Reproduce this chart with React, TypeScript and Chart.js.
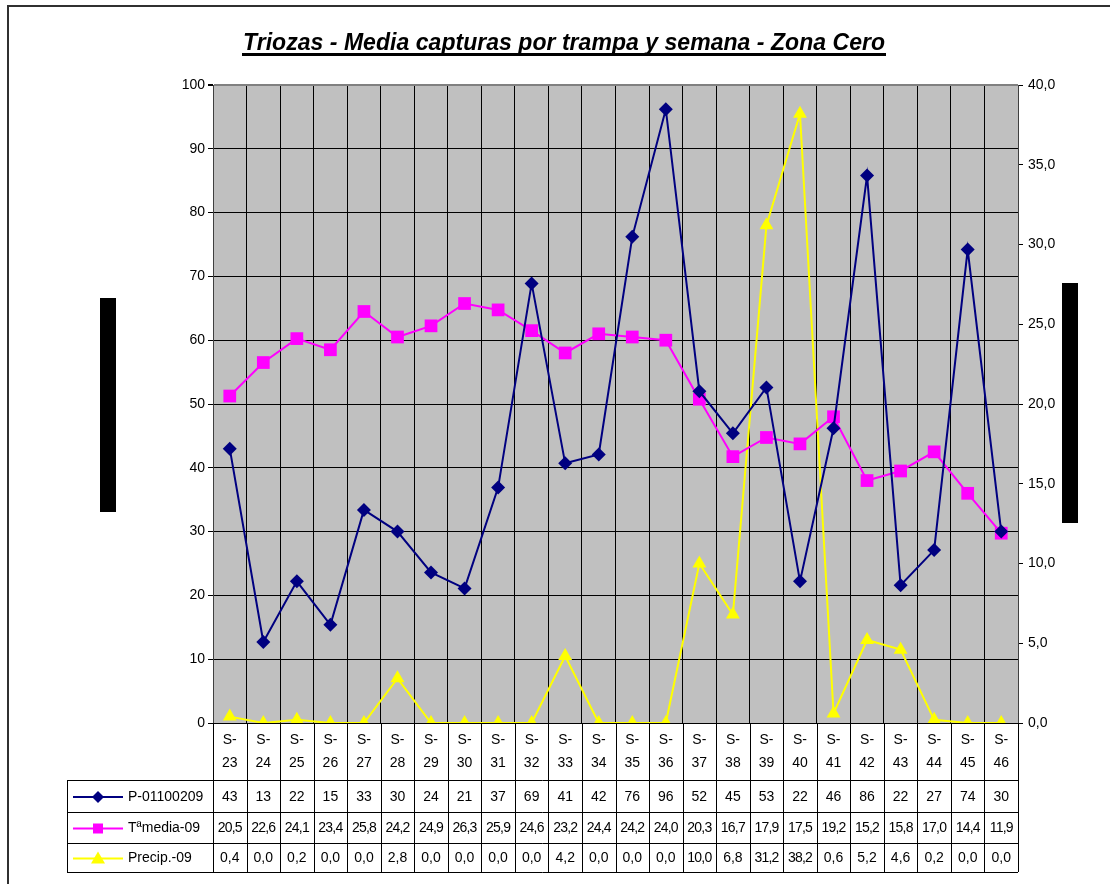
import React, { useEffect, useRef } from "react";
import { Chart, registerables } from "chart.js";

Chart.register(...registerables);

const title = "Triozas - Media capturas por trampa y semana - Zona Cero";
const weeks = ["23", "24", "25", "26", "27", "28", "29", "30", "31", "32", "33", "34", "35", "36", "37", "38", "39", "40", "41", "42", "43", "44", "45", "46"];
const categories = weeks.map((w) => "S-" + w);
const seriesNames = ["P-01100209", "Tªmedia-09", "Precip.-09"];
const capturas = [43.0, 12.7, 22.2, 15.4, 33.4, 30.0, 23.6, 21.1, 36.9, 68.9, 40.7, 42.1, 76.2, 96.2, 52.0, 45.4, 52.6, 22.2, 46.2, 85.8, 21.6, 27.1, 74.2, 30.0];
const tmedia = [20.5, 22.6, 24.1, 23.4, 25.8, 24.2, 24.9, 26.3, 25.9, 24.6, 23.2, 24.4, 24.2, 24.0, 20.3, 16.7, 17.9, 17.5, 19.2, 15.2, 15.8, 17.0, 14.4, 11.9];
const precip = [0.4, 0.0, 0.2, 0.0, 0.0, 2.8, 0.0, 0.0, 0.0, 0.0, 4.2, 0.0, 0.0, 0.0, 10.0, 6.8, 31.2, 38.2, 0.6, 5.2, 4.6, 0.2, 0.0, 0.0];

const NAVY = "#000080";
const MAGENTA = "#FF00FF";
const YELLOW = "#FFFF00";
const FONT = '"Liberation Sans", Arial, sans-serif';

const comma = (v: number) => v.toFixed(1).replace(".", ",");

function drawMarker(ctx: CanvasRenderingContext2D, kind: string, x: number, y: number, color: string) {
  ctx.fillStyle = color;
  ctx.beginPath();
  if (kind === "diamond") {
    ctx.moveTo(x, y - 6);
    ctx.lineTo(x + 6, y);
    ctx.lineTo(x, y + 6);
    ctx.lineTo(x - 6, y);
  } else if (kind === "square") {
    ctx.rect(x - 5, y - 5, 10, 10);
  } else {
    ctx.moveTo(x, y - 7);
    ctx.lineTo(x + 7, y + 5);
    ctx.lineTo(x - 7, y + 5);
  }
  ctx.closePath();
  ctx.fill();
}

const decorPlugin = {
  id: "decor",
  beforeDraw(chart: any) {
    const { ctx, chartArea } = chart;
    ctx.save();
    ctx.fillStyle = "#ffffff";
    ctx.fillRect(0, 0, chart.width, chart.height);
    ctx.fillStyle = "#C0C0C0";
    ctx.fillRect(chartArea.left, chartArea.top, chartArea.right - chartArea.left, chartArea.bottom - chartArea.top);
    ctx.restore();
  },
  afterDraw(chart: any) {
    const { ctx, chartArea } = chart;
    const x = chart.scales.x;
    const { right, bottom } = chartArea;
    const half = (x.getPixelForValue(1) - x.getPixelForValue(0)) / 2;
    const rows = [bottom + 57, bottom + 89, bottom + 120, bottom + 149];
    const legendLeft = 67;
    ctx.save();

    // outer frame
    ctx.strokeStyle = "#303030";
    ctx.lineWidth = 2;
    ctx.beginPath();
    ctx.moveTo(8, chart.height);
    ctx.lineTo(8, 6);
    ctx.lineTo(chart.width, 6);
    ctx.stroke();

    // title
    ctx.font = "italic bold 23px " + FONT;
    ctx.fillStyle = "#000";
    const target = 642;
    const w0 = ctx.measureText(title).width;
    (ctx as any).letterSpacing = (target - w0) / (title.length - 1) + "px";
    const tx = 564 - target / 2;
    ctx.textAlign = "left";
    ctx.textBaseline = "alphabetic";
    ctx.fillText(title, tx, 50);
    (ctx as any).letterSpacing = "0px";
    ctx.fillRect(tx - 1, 53, target + 2, 3);

    // table lines
    ctx.strokeStyle = "#000";
    ctx.lineWidth = 1;
    ctx.beginPath();
    for (let i = 0; i <= categories.length; i++) {
      const px = Math.round(x.getPixelForValue(i) - half) + 0.5;
      ctx.moveTo(px, bottom);
      ctx.lineTo(px, rows[3]);
    }
    for (let r = 0; r < 4; r++) {
      ctx.moveTo(legendLeft, rows[r] + 0.5);
      ctx.lineTo(right, rows[r] + 0.5);
    }
    ctx.moveTo(legendLeft + 0.5, rows[0]);
    ctx.lineTo(legendLeft + 0.5, rows[3]);
    ctx.stroke();

    // category labels
    ctx.font = "14px " + FONT;
    ctx.textAlign = "center";
    ctx.textBaseline = "middle";
    ctx.fillStyle = "#000";
    categories.forEach((c, i) => {
      const cx = x.getPixelForValue(i);
      ctx.fillText("S-", cx, bottom + 17);
      ctx.fillText(weeks[i], cx, bottom + 40);
    });

    // table rows
    const series = [
      { name: seriesNames[0], data: capturas.map((v) => String(Math.round(v))), color: NAVY, marker: "diamond" },
      { name: seriesNames[1], data: tmedia.map(comma), color: MAGENTA, marker: "square" },
      { name: seriesNames[2], data: precip.map(comma), color: YELLOW, marker: "triangle" },
    ];
    series.forEach((s, r) => {
      const cy = (rows[r] + rows[r + 1]) / 2 + 1;
      ctx.strokeStyle = s.color;
      ctx.lineWidth = 2;
      ctx.beginPath();
      ctx.moveTo(73, cy);
      ctx.lineTo(123, cy);
      ctx.stroke();
      drawMarker(ctx, s.marker, 98, cy, s.color);
      ctx.fillStyle = "#000";
      ctx.textAlign = "left";
      ctx.font = "14px " + FONT;
      ctx.fillText(s.name, 128, cy);
      ctx.textAlign = "center";
      s.data.forEach((t, i) => {
        (ctx as any).letterSpacing = t.length > 3 ? "-0.8px" : "0px";
        ctx.fillText(t, x.getPixelForValue(i), cy);
      });
      (ctx as any).letterSpacing = "0px";
    });

    // axis title blocks
    ctx.fillStyle = "#000";
    ctx.fillRect(100, 298, 16, 214);
    ctx.fillRect(1062, 283, 16, 240);
    ctx.restore();
  },
};

export default function App() {
  const ref = useRef<HTMLCanvasElement>(null);
  useEffect(() => {
    if (!ref.current) return;
    Chart.defaults.font.family = FONT;
    const chart = new Chart(ref.current, {
      type: "line",
      data: {
        labels: categories,
        datasets: [
          {
            label: seriesNames[0],
            data: capturas,
            yAxisID: "y",
            borderColor: NAVY,
            backgroundColor: NAVY,
            borderWidth: 2,
            pointStyle: "rectRot",
            pointRadius: 7,
            pointBorderWidth: 0,
            tension: 0,
          },
          {
            label: seriesNames[1],
            data: tmedia,
            yAxisID: "y1",
            borderColor: MAGENTA,
            backgroundColor: MAGENTA,
            borderWidth: 2,
            pointStyle: "rect",
            pointRadius: 9,
            pointBorderWidth: 0,
            tension: 0,
          },
          {
            label: seriesNames[2],
            data: precip,
            yAxisID: "y1",
            borderColor: YELLOW,
            backgroundColor: YELLOW,
            borderWidth: 2,
            pointStyle: "triangle",
            pointRadius: 8,
            pointBorderWidth: 0,
            tension: 0,
          },
        ],
      },
      options: {
        responsive: false,
        animation: false,
        layout: { padding: { top: 85, left: 0, right: 0, bottom: 0 } },
        plugins: { legend: { display: false }, title: { display: false }, tooltip: { enabled: false } },
        scales: {
          x: {
            type: "category",
            offset: true,
            grid: { display: true, offset: true, color: "#000", lineWidth: 1, drawTicks: false },
            border: { display: true, color: "#000" },
            ticks: { display: false },
            afterFit: (s: any) => {
              s.height = 161;
            },
          },
          y: {
            position: "left",
            min: 0,
            max: 100,
            ticks: { stepSize: 10, color: "#000", font: { size: 14 }, padding: 3 },
            grid: {
              color: (c: any) => (c.tick && c.tick.value === 100 ? "#808080" : "#000"),
              lineWidth: (c: any) => (c.tick && c.tick.value === 100 ? 2 : 1),
              tickColor: "#000",
              tickLength: 5,
            },
            border: { display: true, color: "#404040", width: 1 },
            afterFit: (s: any) => {
              s.width = 213;
            },
          },
          y1: {
            position: "right",
            min: 0,
            max: 40,
            ticks: { stepSize: 5, color: "#000", font: { size: 14 }, padding: 5, callback: (v: any) => comma(Number(v)) },
            grid: { drawOnChartArea: false, tickColor: "#000", tickLength: 5 },
            border: { display: true, color: "#404040", width: 1 },
            afterFit: (s: any) => {
              s.width = 92;
            },
          },
        },
      },
      plugins: [decorPlugin],
    } as any);
    return () => chart.destroy();
  }, []);
  return (
    <div style={{ position: "absolute", left: 0, top: 0, width: 1110, height: 884 }}>
      <canvas ref={ref} width={1110} height={884} style={{ display: "block", width: 1110, height: 884 }} />
    </div>
  );
}
